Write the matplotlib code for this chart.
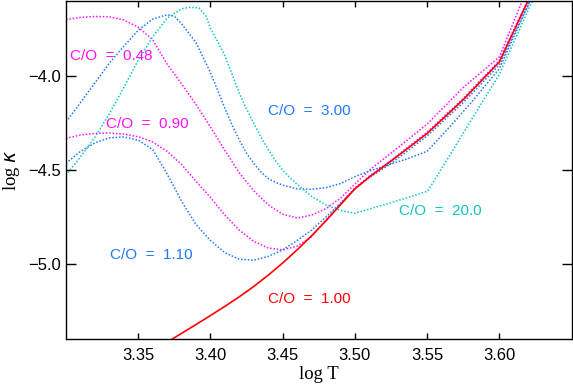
import matplotlib
matplotlib.use('Agg')
import matplotlib.pyplot as plt

# opacity curves, log kappa vs log T, one per C/O ratio
logt_100 = [3.365, 3.37, 3.38, 3.39, 3.40, 3.41, 3.42, 3.43, 3.44, 3.45,
            3.46, 3.47, 3.48, 3.49, 3.50, 3.51, 3.525, 3.55, 3.575, 3.60,
            3.62, 3.63]
logk_100 = [-5.44, -5.417, -5.37, -5.323, -5.275, -5.226, -5.175, -5.12, -5.06, -4.995,
            -4.925, -4.85, -4.77, -4.685, -4.60, -4.537, -4.452, -4.305, -4.125, -3.924,
            -3.596, -3.43]

logt_048 = [3.30, 3.31, 3.32, 3.33, 3.34, 3.35, 3.36, 3.37, 3.38, 3.39,
            3.40, 3.41, 3.42, 3.43, 3.44, 3.45, 3.46, 3.47, 3.48, 3.49,
            3.50, 3.51, 3.525, 3.55, 3.575, 3.60, 3.616, 3.625]
logk_048 = [-3.698, -3.686, -3.681, -3.683, -3.700, -3.738, -3.805, -3.935, -4.04, -4.15,
            -4.27, -4.395, -4.515, -4.61, -4.685, -4.735, -4.755, -4.74, -4.705, -4.65,
            -4.575, -4.50, -4.41, -4.255, -4.06, -3.897, -3.596, -3.43]

logt_090 = [3.30, 3.31, 3.32, 3.33, 3.34, 3.35, 3.36, 3.37, 3.38, 3.39,
            3.40, 3.41, 3.42, 3.43, 3.44, 3.45, 3.46, 3.47, 3.48, 3.49,
            3.50, 3.51, 3.525, 3.55, 3.575, 3.60, 3.62, 3.63]
logk_090 = [-4.331, -4.313, -4.304, -4.302, -4.308, -4.322, -4.35, -4.40, -4.47, -4.56,
            -4.645, -4.74, -4.82, -4.88, -4.915, -4.925, -4.905, -4.855, -4.765, -4.68,
            -4.595, -4.532, -4.448, -4.298, -4.118, -3.916, -3.59, -3.43]

logt_110 = [3.30, 3.31, 3.32, 3.33, 3.34, 3.35, 3.36, 3.37, 3.38, 3.39,
            3.40, 3.41, 3.42, 3.43, 3.44, 3.45, 3.46, 3.47, 3.48, 3.49,
            3.50, 3.51, 3.525, 3.55, 3.575, 3.60, 3.62, 3.63]
logk_110 = [-4.464, -4.40, -4.355, -4.328, -4.323, -4.34, -4.39, -4.52, -4.665, -4.79,
            -4.875, -4.94, -4.975, -4.98, -4.96, -4.925, -4.875, -4.82, -4.75, -4.675,
            -4.60, -4.54, -4.465, -4.318, -4.14, -3.94, -3.62, -3.45]

logt_300 = [3.30, 3.31, 3.32, 3.33, 3.34, 3.35, 3.36, 3.37, 3.375, 3.38,
            3.39, 3.40, 3.405, 3.41, 3.415, 3.42, 3.425, 3.43, 3.435, 3.44,
            3.445, 3.45, 3.46, 3.47, 3.48, 3.49, 3.50, 3.51, 3.52, 3.535,
            3.55, 3.565, 3.58, 3.60, 3.62, 3.63]
logk_300 = [-4.243, -4.14, -4.035, -3.93, -3.84, -3.755, -3.695, -3.672, -3.68, -3.72,
            -3.82, -3.98, -4.075, -4.17, -4.26, -4.34, -4.41, -4.465, -4.51, -4.545,
            -4.565, -4.58, -4.60, -4.602, -4.593, -4.572, -4.535, -4.505, -4.48, -4.443,
            -4.40, -4.275, -4.145, -3.96, -3.62, -3.45]

logt_200 = [3.30, 3.31, 3.32, 3.33, 3.34, 3.35, 3.36, 3.37, 3.38, 3.385,
            3.392, 3.397, 3.40, 3.405, 3.41, 3.415, 3.42, 3.425, 3.43, 3.435,
            3.44, 3.445, 3.45, 3.455, 3.46, 3.47, 3.48, 3.49, 3.50, 3.52,
            3.535, 3.5504, 3.565, 3.58, 3.60, 3.621, 3.63]
logk_200 = [-4.527, -4.43, -4.325, -4.20, -4.06, -3.915, -3.79, -3.69, -3.64, -3.633,
            -3.635, -3.68, -3.745, -3.815, -3.89, -3.99, -4.09, -4.175, -4.25, -4.325,
            -4.39, -4.45, -4.50, -4.54, -4.575, -4.64, -4.685, -4.715, -4.73, -4.685,
            -4.65, -4.612, -4.43, -4.24, -3.99, -3.63, -3.5]

labels = ['C/O  =  0.48', 'C/O  =  0.90', 'C/O  =  3.00',
          'C/O  =  1.10', 'C/O  =  1.00', 'C/O  =  20.0']
label_x = [3.3311, 3.3564, 3.4687, 3.359, 3.4687, 3.5589]
label_y = [-3.914, -4.278, -4.205, -4.976, -5.206, -4.737]

MAGENTA = '#ff10ff'
BLUE = '#1e78ff'
CYAN = '#10c4c4'
RED = '#ff0000'
label_colors = [MAGENTA, MAGENTA, BLUE, BLUE, RED, CYAN]

fig = plt.figure(figsize=(5.73, 3.86), dpi=100)
ax = fig.add_axes([66 / 573, 1 - 339 / 386, 505.5 / 573, 338.5 / 386])

dots = (0, (1, 1.2))
ax.plot(logt_048, logk_048, color=MAGENTA, lw=1.1, ls=dots)
ax.plot(logt_090, logk_090, color=MAGENTA, lw=1.1, ls=dots)
ax.plot(logt_110, logk_110, color=BLUE, lw=1.1, ls=dots)
ax.plot(logt_300, logk_300, color=BLUE, lw=1.1, ls=dots)
ax.plot(logt_200, logk_200, color=CYAN, lw=1.1, ls=dots)
ax.plot(logt_100, logk_100, color=RED, lw=1.2, ls='-')

for txt, x, y, c in zip(labels, label_x, label_y, label_colors):
    ax.text(x, y, txt, color=c, ha='center', va='baseline',
            fontsize=11, family='Liberation Sans')

ax.set_xlim(3.30, 3.65)
ax.set_ylim(-5.40, -3.596)
ax.set_xticks([3.35, 3.40, 3.45, 3.50, 3.55, 3.60])
ax.set_yticks([-5.0, -4.5, -4.0])
ax.set_xticklabels(['3.35', '3.40', '3.45', '3.50', '3.55', '3.60'])
ax.set_yticklabels(['\u22125.0', '\u22124.5', '\u22124.0'])
for lab in ax.get_xticklabels() + ax.get_yticklabels():
    lab.set_family('Liberation Sans')
    lab.set_fontsize(12)

ax.tick_params(direction='in', top=True, right=True, width=1)
ax.tick_params(axis='x', length=4.5, pad=6.5)
ax.tick_params(axis='y', length=7, pad=3.6)
for s in ax.spines.values():
    s.set_linewidth(1.0)

plt.rcParams['mathtext.fontset'] = 'custom'
plt.rcParams['mathtext.it'] = 'Liberation Serif:italic'
plt.rcParams['mathtext.rm'] = 'Liberation Serif'
ax.set_xlabel('log T', family='Liberation Serif', fontsize=13.5)
ax.set_ylabel(r'log $\kappa$', family='Liberation Serif', fontsize=13.5)
ax.xaxis.set_label_coords(0.5, -0.08)
ax.yaxis.set_label_coords(-0.088, 0.5)

fig.savefig('out.png', dpi=100)
